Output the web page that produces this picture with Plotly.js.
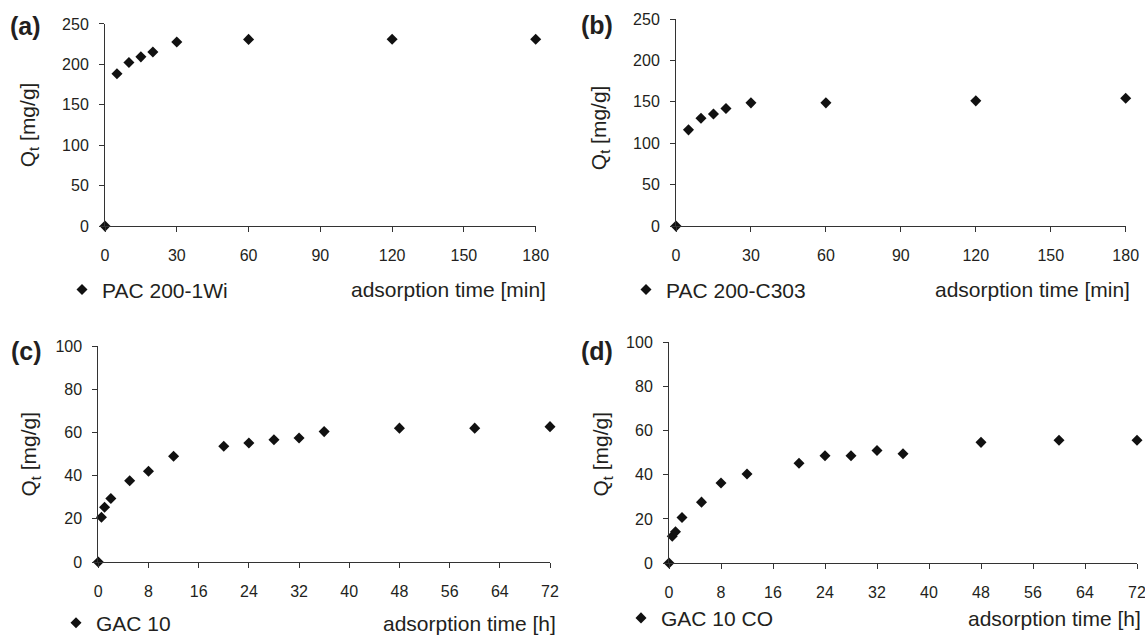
<!DOCTYPE html>
<html>
<head>
<meta charset="utf-8">
<script src="https://cdn.plot.ly/plotly-3.0.1.min.js"></script>
<style>html,body{margin:0;padding:0;background:#fff;}#chart{width:1145px;height:644px;}</style>
</head>
<body>
<div id="chart"></div>
<script>
// ---- data ----
var timeMin = [0, 5, 10, 15, 20, 30, 60, 120, 180];
var qPAC1Wi = [0, 188.5, 202.4, 209.3, 215.4, 227.6, 230.9, 231, 231];
var qPACC303 = [0, 116.2, 130.1, 135.3, 142, 148.8, 148.8, 151.2, 154.3];
var timeH = [0, 0.5, 1, 2, 5, 8, 12, 20, 24, 28, 32, 36, 48, 60, 72];
var qGAC10 = [0, 20.7, 25.4, 29.4, 37.6, 42, 49, 53.6, 55.1, 56.6, 57.4, 60.4, 62, 62, 62.7];
var qGAC10CO = [0, 12.1, 14.2, 20.6, 27.6, 36.3, 40.4, 45.2, 48.6, 48.6, 51, 49.5, 54.7, 55.7, 55.7];
var names = ["PAC 200-1Wi", "PAC 200-C303", "GAC 10", "GAC 10 CO"];
var panelLabels = ["(a)", "(b)", "(c)", "(d)"];
var xTitles = ["adsorption time [min]", "adsorption time [min]", "adsorption time [h]", "adsorption time [h]"];
var yTitle = "Q<sub>t</sub> [mg/g]";
var ticksMin = [0, 30, 60, 90, 120, 150, 180];
var ticksH = [0, 8, 16, 24, 32, 40, 48, 56, 64, 72];
var ticksQ250 = [0, 50, 100, 150, 200, 250];
var ticksQ100 = [0, 20, 40, 60, 80, 100];

// ---- layout helpers ----
var W = 1145, H = 644;
function px(x) { return x / W; }
function py(y) { return 1 - y / H; }
var FONT = "Liberation Sans, Arial, sans-serif";
var TXT = "#231f20";

var xs = [timeMin, timeMin, timeH, timeH];
var ys = [qPAC1Wi, qPACC303, qGAC10, qGAC10CO];
var legendIds = ["legend", "legend2", "legend3", "legend4"];

// plot boxes in pixels: [x0, x1, yBottom, yTop]
var boxes = [
  [105, 535.7, 229.3, 24.3],
  [676, 1125.7, 229.3, 19.3],
  [98.3, 550, 570, 351],
  [669, 1137, 571, 347.3]
];
var xRanges = [[0, 180], [0, 180], [0, 72], [0, 72]];
var yRanges = [[0, 250], [0, 250], [0, 100], [0, 100]];
var xTicks = [ticksMin, ticksMin, ticksH, ticksH];
var yTicks = [ticksQ250, ticksQ250, ticksQ100, ticksQ100];

var data = [];
var layout = {
  width: W, height: H,
  margin: {l: 0, r: 0, t: 0, b: 0},
  paper_bgcolor: "#fff", plot_bgcolor: "#fff",
  font: {family: FONT, color: TXT},
  annotations: [],
  showlegend: true
};

// positions for panel labels, y titles, x titles, legends
var labelPos = [[25, 26], [597, 25], [26, 356], [597, 356]];
var yTitlePos = [[29, 127], [600, 130], [30, 461], [602, 461]];
var xTitlePos = [[548, 294], [1132, 294], [558, 632], [1143, 627]];
var legendPos = [[62, 294], [626, 294], [56, 632], [621, 627]];

for (var i = 0; i < 4; i++) {
  var sfx = i === 0 ? "" : String(i + 1);
  data.push({
    type: "scatter", mode: "markers",
    x: xs[i], y: ys[i], name: names[i],
    xaxis: "x" + sfx, yaxis: "y" + sfx,
    legend: legendIds[i],
    cliponaxis: false,
    marker: {symbol: "diamond", size: 8.5, color: "#111"}
  });
  var b = boxes[i];
  layout["xaxis" + sfx] = {
    domain: [px(b[0]), px(b[1])], range: xRanges[i], anchor: "y" + sfx,
    tickmode: "array", tickvals: xTicks[i], ticks: "outside", ticklen: 5, tickwidth: 1,
    tickcolor: "#333", showline: true, linecolor: "#333", linewidth: 1,
    showgrid: false, zeroline: false, ticklabelstandoff: 10, ticklabeloverflow: "allow",
    tickfont: {family: FONT, size: 16, color: TXT}, fixedrange: true
  };
  layout["yaxis" + sfx] = {
    domain: [py(b[2]), py(b[3])], range: yRanges[i], anchor: "x" + sfx,
    tickmode: "array", tickvals: yTicks[i], ticks: "outside", ticklen: 5, tickwidth: 1,
    tickcolor: "#333", showline: true, linecolor: "#333", linewidth: 1,
    showgrid: false, zeroline: false, ticklabelstandoff: 7, ticklabeloverflow: "allow",
    tickfont: {family: FONT, size: 16, color: TXT}, fixedrange: true
  };
  layout[legendIds[i]] = {
    x: px(legendPos[i][0]), y: py(legendPos[i][1]), xanchor: "left", yanchor: "middle",
    bgcolor: "rgba(0,0,0,0)", borderwidth: 0,
    font: {family: FONT, size: 21, color: TXT}
  };
  layout.annotations.push({
    text: "<b>" + panelLabels[i] + "</b>", xref: "paper", yref: "paper",
    x: px(labelPos[i][0]), y: py(labelPos[i][1]), xanchor: "center", yanchor: "middle",
    showarrow: false, font: {family: FONT, size: 25, color: TXT}
  });
  layout.annotations.push({
    text: yTitle, xref: "paper", yref: "paper", textangle: -90,
    x: px(yTitlePos[i][0]), y: py(yTitlePos[i][1]), xanchor: "center", yanchor: "middle",
    showarrow: false, font: {family: FONT, size: 21, color: TXT}
  });
  layout.annotations.push({
    text: xTitles[i], xref: "paper", yref: "paper",
    x: px(xTitlePos[i][0]), y: py(xTitlePos[i][1]), xanchor: "right", yanchor: "middle",
    showarrow: false, font: {family: FONT, size: 21, color: TXT}
  });
}

Plotly.newPlot("chart", data, layout, {displayModeBar: false, staticPlot: true});
</script>
</body>
</html>
